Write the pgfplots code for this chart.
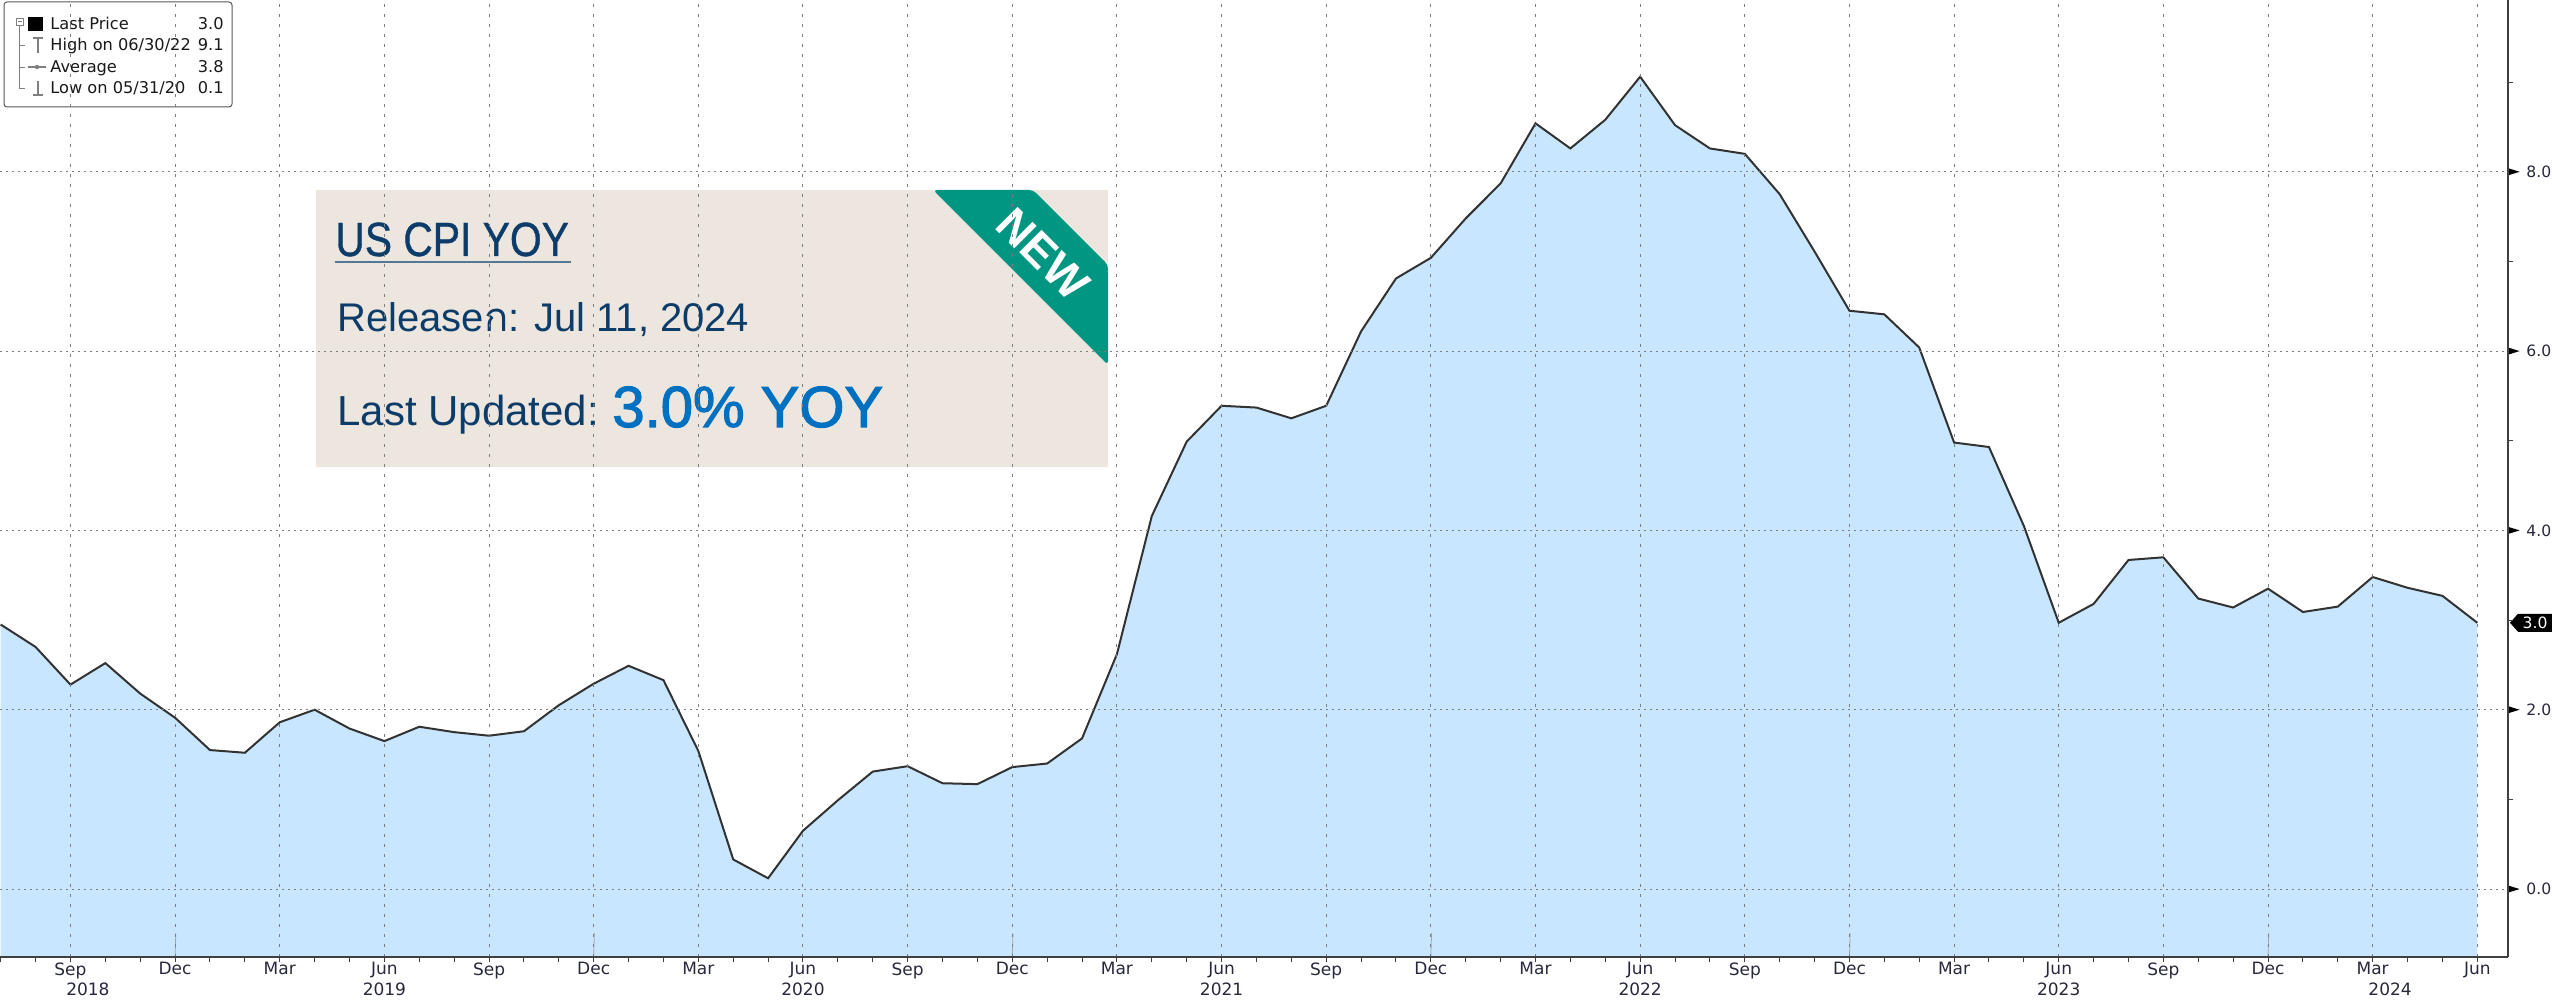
\documentclass[border=0pt]{standalone}
\usepackage{pgfplots}
\pgfplotsset{compat=1.18}
\usepgfplotslibrary{fillbetween}
\usepackage{pgfplotstable}
\usepackage{fontspec}
\setmainfont{DejaVu Sans}
\newfontfamily\hfont{Liberation Sans}
\newfontfamily\hfontn[FakeStretch=0.85,FakeBold=0.8]{Liberation Sans}
\newfontfamily\hfontm[FakeBold=2]{Liberation Sans}
\newfontfamily\thaifont[Script=Thai]{Loma}

\definecolor{cpifill}{RGB}{200,230,255}
\definecolor{cpiline}{RGB}{50,50,50}
\definecolor{navy}{RGB}{12,60,105}
\definecolor{brightblue}{RGB}{0,112,192}
\definecolor{boxbg}{RGB}{237,230,223}
\definecolor{ribbon}{RGB}{0,150,130}
\definecolor{gridc}{RGB}{125,125,125}
\definecolor{ticktext}{RGB}{40,40,60}

\pgfplotstableread{
idx val
0 2.95
1 2.70
2 2.28
3 2.52
4 2.18
5 1.91
6 1.55
7 1.52
8 1.86
9 2.00
10 1.79
11 1.65
12 1.81
13 1.75
14 1.71
15 1.76
16 2.05
17 2.29
18 2.49
19 2.33
20 1.54
21 0.33
22 0.12
23 0.65
24 0.99
25 1.31
26 1.37
27 1.18
28 1.17
29 1.36
30 1.40
31 1.68
32 2.62
33 4.16
34 4.99
35 5.39
36 5.37
37 5.25
38 5.39
39 6.22
40 6.81
41 7.04
42 7.48
43 7.87
44 8.54
45 8.26
46 8.58
47 9.06
48 8.52
49 8.26
50 8.20
51 7.75
52 7.11
53 6.45
54 6.41
55 6.04
56 4.98
57 4.93
58 4.05
59 2.97
60 3.18
61 3.67
62 3.70
63 3.24
64 3.14
65 3.35
66 3.09
67 3.15
68 3.48
69 3.36
70 3.27
71 2.97
}\cpidata

\begin{document}
\begin{tikzpicture}
\begin{axis}[
  at={(0,0)}, anchor=south west,
  scale only axis, width=1254pt, height=478.5pt,
  xmin=-0.02, xmax=71.88, ymin=-0.758, ymax=9.916,
  axis x line*=bottom, axis y line*=right,
  axis line style={draw=black!75, line width=0.8pt},
  axis on top, clip=false,
  tick align=outside,
  major tick length=2.5pt, minor tick length=2.5pt,
  every tick/.style={black!75, line width=0.5pt},
  major y tick style={draw=none},
  xtick={2,5,...,71},
  xticklabels={Sep,Dec,Mar,Jun,Sep,Dec,Mar,Jun,Sep,Dec,Mar,Jun,Sep,Dec,Mar,Jun,Sep,Dec,Mar,Jun,Sep,Dec,Mar,Jun},
  minor xtick={0,...,71},
  ytick={0,2,4,6,8},
  yticklabels={0.0,2.0,4.0,6.0,8.0},
  minor ytick={1,3,5,7,9},
  xmajorgrids, ymajorgrids,
  x grid style={gridc, line width=0.5pt, dash pattern=on 1.5pt off 3.5pt},
  y grid style={gridc, line width=0.5pt, dash pattern=on 0.8pt off 2.2pt},
  xticklabel style={font=\fontsize{8.5}{10}\selectfont, text=ticktext, anchor=north, inner sep=0pt, yshift=0pt},
  yticklabel style={font=\fontsize{7.8}{9}\selectfont, text=ticktext, anchor=west, inner sep=0pt, xshift=6.5pt},
]
\addplot[draw=none, name path=cpi] table[x=idx, y=val] {\cpidata};
\path[name path=bottom] (axis cs:0,-0.758) -- (axis cs:71,-0.758);
\addplot[cpifill, draw=none] fill between[of=cpi and bottom];
\addplot[cpiline, line width=1pt] table[x=idx, y=val] {\cpidata};

% year separators
\pgfplotsinvokeforeach{5,17,29,41,53,65}{
  \draw[gray!70, line width=0.4pt] (axis cs:#1,-0.758) -- ++(0,-22pt);
}
% year labels
\node[font=\fontsize{8.5}{10}\selectfont, text=ticktext, inner sep=0pt, yshift=-16pt] at (axis cs:2.5,-0.758) {2018};
\node[font=\fontsize{8.5}{10}\selectfont, text=ticktext, inner sep=0pt, yshift=-16pt] at (axis cs:11,-0.758) {2019};
\node[font=\fontsize{8.5}{10}\selectfont, text=ticktext, inner sep=0pt, yshift=-16pt] at (axis cs:23,-0.758) {2020};
\node[font=\fontsize{8.5}{10}\selectfont, text=ticktext, inner sep=0pt, yshift=-16pt] at (axis cs:35,-0.758) {2021};
\node[font=\fontsize{8.5}{10}\selectfont, text=ticktext, inner sep=0pt, yshift=-16pt] at (axis cs:47,-0.758) {2022};
\node[font=\fontsize{8.5}{10}\selectfont, text=ticktext, inner sep=0pt, yshift=-16pt] at (axis cs:59,-0.758) {2023};
\node[font=\fontsize{8.5}{10}\selectfont, text=ticktext, inner sep=0pt, yshift=-16pt] at (axis cs:68.5,-0.758) {2024};
% reference points on the right axis
\coordinate (tk0) at (axis cs:71.88,0);
\coordinate (tk2) at (axis cs:71.88,2);
\coordinate (tk4) at (axis cs:71.88,4);
\coordinate (tk6) at (axis cs:71.88,6);
\coordinate (tk8) at (axis cs:71.88,8);
\coordinate (lastv) at (axis cs:71.88,2.97);
\end{axis}

% tick triangles on the right axis
\foreach \n in {0,2,4,6,8}{
  \fill[black] ([xshift=0.3pt,yshift=1.7pt]tk\n) -- ([xshift=5.8pt]tk\n) -- ([xshift=0.3pt,yshift=-1.7pt]tk\n) -- cycle;
}
% last value tag
\fill[black] ([xshift=1pt]lastv) -- ([xshift=5pt,yshift=4.5pt]lastv) -- ([xshift=22pt,yshift=4.5pt]lastv) -- ([xshift=22pt,yshift=-4.5pt]lastv) -- ([xshift=5pt,yshift=-4.5pt]lastv) -- cycle;
\node[text=white, font=\fontsize{7.8}{9}\selectfont, inner sep=0pt] at ([xshift=13.5pt]lastv) {3.0};

% overlay annotations, coordinates in reference pixels from top-left
\begin{scope}[x=0.5pt, y=-0.5pt, shift={(0,478.5pt)}]
  % legend box
  \draw[rounded corners=1.5pt, draw=black!65, line width=0.5pt, fill=white] (4,2) rectangle (232,107);
  \draw[gray, line width=0.4pt] (16,18) rectangle (23,25);
  \draw[gray, line width=0.4pt] (17.5,21.5) -- (21.5,21.5);
  \draw[gray, line width=0.4pt] (19.5,25) -- (19.5,88) -- (25,88);
  \draw[gray, line width=0.4pt] (19.5,45) -- (25,45);
  \draw[gray, line width=0.4pt] (19.5,67) -- (25,67);
  \fill[black] (28,17) rectangle (43,31);
  \draw[gray, line width=0.6pt] (33,38) -- (43,38) (38,38) -- (38,53);
  \draw[gray, line width=0.6pt] (28,67) -- (46,67);
  \fill[gray] (37,67) circle (2.2);
  \draw[gray, line width=0.6pt] (38,81) -- (38,95) (33,95) -- (43,95);
  \begin{scope}[every node/.style={inner sep=0pt, font=\fontsize{8.1}{9.6}\selectfont, text=black!90}]
    \node[anchor=base west] at (50,30) {Last Price};
    \node[anchor=base west] at (50,51) {High on 06/30/22};
    \node[anchor=base west] at (50,73) {Average};
    \node[anchor=base west] at (50,94) {Low on 05/31/20};
    \node[anchor=base east] at (224,30) {3.0};
    \node[anchor=base east] at (224,51) {9.1};
    \node[anchor=base east] at (224,73) {3.8};
    \node[anchor=base east] at (224,94) {0.1};
  \end{scope}

  % text box
  \fill[boxbg] (316,190) rectangle (1108,467);
  \fill[ribbon, rounded corners=2pt] (933,190) -- (1033,190) -- (1108,265) -- (1108,365) -- cycle;
  \node[rotate=-45, text=white, font=\hfont\bfseries\fontsize{23}{23}\selectfont, inner sep=0pt] at (1043,254) {NEW};
  \node[anchor=base west, inner sep=0pt, text=navy, font=\hfontn\fontsize{24}{26}\selectfont] at (335,256) {US CPI YOY};
  \draw[navy!70!white, line width=1pt] (335,262) -- (571,262);
  \node[anchor=base west, inner sep=0pt, text=navy, font=\hfont\fontsize{20}{24}\selectfont] at (337,332) {Release{\thaifont ก}: Jul 11, 2024};
  \node[anchor=base west, inner sep=0pt, text=navy, font=\hfont\fontsize{21}{24}\selectfont] at (337,426) {Last Updated:};
  \node[anchor=base west, inner sep=0pt, text=brightblue, font=\hfontm\fontsize{29}{32}\selectfont] at (612,427) {3.0\% YOY};
\end{scope}

\pgfresetboundingbox
\useasboundingbox (0,-22pt) rectangle (1276pt,478.5pt);
\end{tikzpicture}
\end{document}
